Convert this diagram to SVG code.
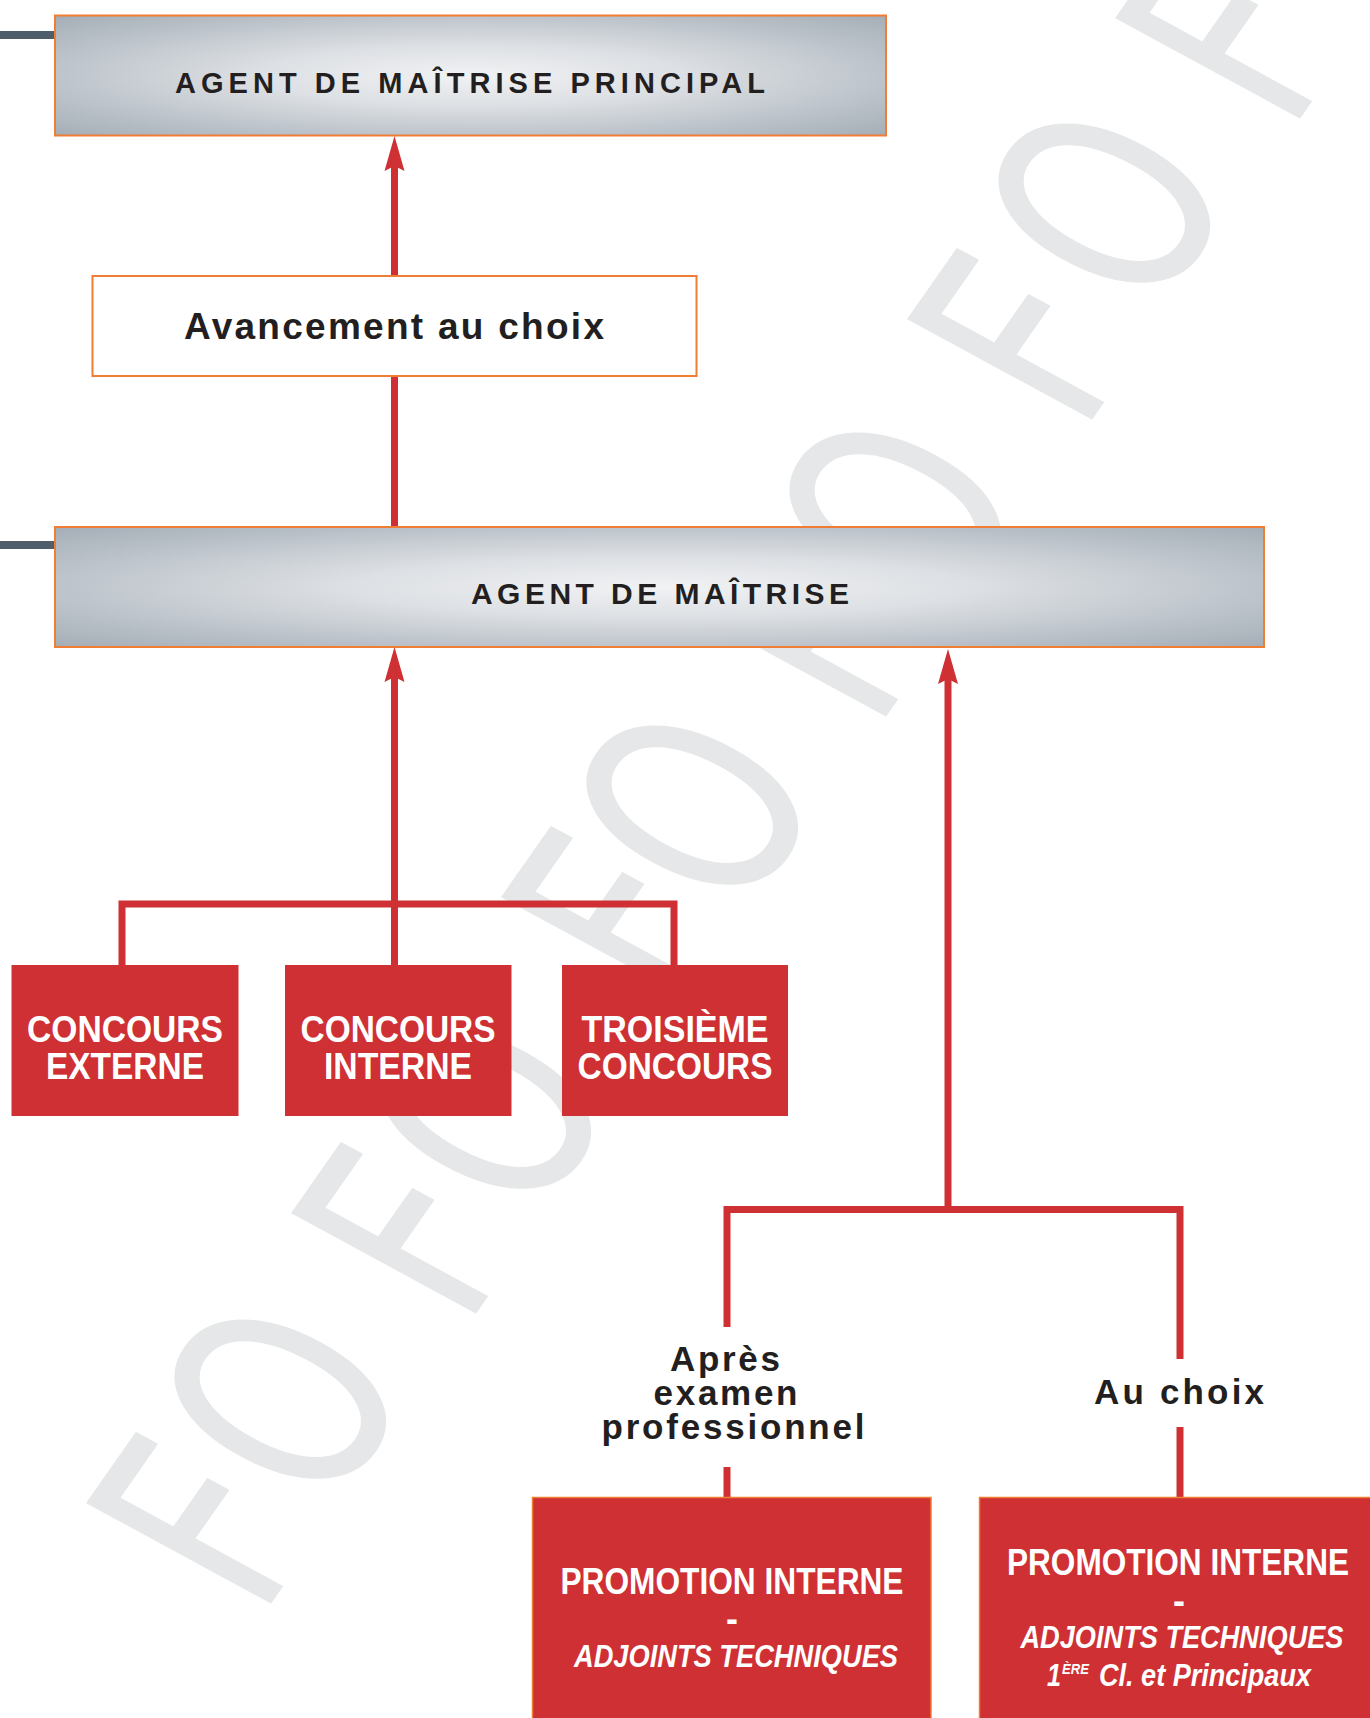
<svg xmlns="http://www.w3.org/2000/svg" width="1370" height="1718" viewBox="0 0 1370 1718">
<style>
.wm{font-family:"DejaVu Sans",sans-serif;font-size:285px;fill:#e6e7e8;stroke:#e6e7e8;stroke-width:1.5;stroke-linejoin:round;text-anchor:middle}
.grey{stroke:#ef7d34;stroke-width:2}
.white{fill:#ffffff;stroke:#ef7d34;stroke-width:2}
.red{fill:#cf3033}
.redb{fill:#cf3033;stroke:#ef7d34;stroke-width:1.5}
.stub{fill:#4f5e6b}
.dark{font-family:"Liberation Sans",Arial,sans-serif;font-weight:bold;fill:#231f20;text-anchor:middle}
.wt{font-family:"Liberation Sans",Arial,sans-serif;font-weight:bold;fill:#ffffff;text-anchor:middle}
.it{font-style:italic}
.line{fill:none;stroke:#cf3033;stroke-width:7;stroke-linejoin:miter}
</style>
<defs>
<radialGradient id="steel" cx="0.5" cy="0.5" r="0.72">
<stop offset="0" stop-color="#f1f2f4"/>
<stop offset="0.35" stop-color="#dde0e4"/>
<stop offset="0.7" stop-color="#bcc3ca"/>
<stop offset="1" stop-color="#a3acb5"/>
</radialGradient>
<marker id="arrow" markerUnits="userSpaceOnUse" viewBox="-11 -11 37 22" refX="0" refY="0" markerWidth="37" markerHeight="22" orient="auto">
<path d="M25,0 L-10,-10 L-5,0 L-10,10 Z" fill="#cf3033"/>
</marker>
</defs>
<rect width="1370" height="1718" fill="#ffffff"/>
<g id="watermark">
<text class="wm" transform="translate(201,1521) rotate(-55) skewX(6.5) scale(0.72,1)" y="104">F</text>
<text class="wm" transform="translate(280,1399) rotate(-55) skewX(6.5) scale(0.72,1)" y="104">O</text>
<text class="wm" transform="translate(406,1231) rotate(-55) skewX(6.5) scale(0.72,1)" y="104">F</text>
<text class="wm" transform="translate(485,1109) rotate(-55) skewX(6.5) scale(0.72,1)" y="104">O</text>
<text class="wm" transform="translate(616,915) rotate(-55) skewX(6.5) scale(0.72,1)" y="104">F</text>
<text class="wm" transform="translate(692,805) rotate(-55) skewX(6.5) scale(0.72,1)" y="104">O</text>
<text class="wm" transform="translate(816,634) rotate(-55) skewX(6.5) scale(0.72,1)" y="104">F</text>
<text class="wm" transform="translate(895,512) rotate(-55) skewX(6.5) scale(0.72,1)" y="104">O</text>
<text class="wm" transform="translate(1022,337) rotate(-55) skewX(6.5) scale(0.72,1)" y="104">F</text>
<text class="wm" transform="translate(1104,203) rotate(-55) skewX(6.5) scale(0.72,1)" y="104">O</text>
<text class="wm" transform="translate(1230,36) rotate(-55) skewX(6.5) scale(0.72,1)" y="104">F</text>
<text class="wm" transform="translate(1309,-86) rotate(-55) skewX(6.5) scale(0.72,1)" y="104">O</text>
</g>
<g id="stubs">
<rect class="stub" x="0" y="31" width="55" height="8"/>
<rect class="stub" x="0" y="541" width="55" height="8"/>
</g>
<g id="connectors">
<path class="line" d="M394.5,276 V161" marker-end="url(#arrow)"/>
<path class="line" d="M394.5,527 V376"/>
<path class="line" d="M394.5,965 V672" marker-end="url(#arrow)"/>
<path class="line" d="M122,965 V904 H674 V965"/>
<path class="line" d="M948,1213 V674" marker-end="url(#arrow)"/>
<path class="line" d="M727,1327 V1209.5 H1180 V1359"/>
<path class="line" d="M727,1467 V1497"/>
<path class="line" d="M1180,1427 V1497"/>
</g>
<g id="agent-maitrise-principal">
<rect class="grey" x="55" y="15.5" width="831" height="120" fill="url(#steel)"/>
<text class="dark" x="470" y="93" font-size="29" textLength="590" lengthAdjust="spacing">AGENT DE MAÎTRISE PRINCIPAL</text>
</g>
<g id="avancement-au-choix">
<rect class="white" x="92.5" y="276" width="604" height="100"/>
<text class="dark" x="394" y="339" font-size="37" textLength="420" lengthAdjust="spacing">Avancement au choix</text>
</g>
<g id="agent-maitrise">
<rect class="grey" x="55" y="527" width="1209" height="120" fill="url(#steel)"/>
<text class="dark" x="660" y="604" font-size="30" textLength="378" lengthAdjust="spacing">AGENT DE MAÎTRISE</text>
</g>
<g id="concours-externe">
<rect class="red" x="11.5" y="965" width="227" height="151"/>
<text class="wt" x="125" y="1042" font-size="36" textLength="196" lengthAdjust="spacingAndGlyphs">CONCOURS</text>
<text class="wt" x="125" y="1079" font-size="36" textLength="158" lengthAdjust="spacingAndGlyphs">EXTERNE</text>
</g>
<g id="concours-interne">
<rect class="red" x="285" y="965" width="226.5" height="151"/>
<text class="wt" x="398" y="1042" font-size="36" textLength="195" lengthAdjust="spacingAndGlyphs">CONCOURS</text>
<text class="wt" x="398" y="1079" font-size="36" textLength="148" lengthAdjust="spacingAndGlyphs">INTERNE</text>
</g>
<g id="troisieme-concours">
<rect class="red" x="562" y="965" width="226" height="151"/>
<text class="wt" x="675" y="1042" font-size="36" textLength="187" lengthAdjust="spacingAndGlyphs">TROISIÈME</text>
<text class="wt" x="675" y="1079" font-size="36" textLength="195" lengthAdjust="spacingAndGlyphs">CONCOURS</text>
</g>
<g id="label-apres-examen">
<text class="dark" x="725" y="1371" font-size="35" textLength="110" lengthAdjust="spacing">Après</text>
<text class="dark" x="725.5" y="1405" font-size="35" textLength="144" lengthAdjust="spacing">examen</text>
<text class="dark" x="733" y="1439" font-size="35" textLength="263" lengthAdjust="spacing">professionnel</text>
</g>
<g id="label-au-choix">
<text class="dark" x="1179" y="1404" font-size="35" textLength="170" lengthAdjust="spacing">Au choix</text>
</g>
<g id="promotion-interne-adjoints">
<rect class="redb" x="532.5" y="1497.5" width="398.5" height="230"/>
<text class="wt" x="732" y="1594" font-size="36" textLength="343" lengthAdjust="spacingAndGlyphs">PROMOTION INTERNE</text>
<text class="wt" x="732" y="1631" font-size="36">-</text>
<text class="wt it" x="736" y="1667" font-size="31" textLength="324" lengthAdjust="spacingAndGlyphs">ADJOINTS TECHNIQUES</text>
</g>
<g id="promotion-interne-adjoints-1ere">
<rect class="redb" x="979.5" y="1497.5" width="400" height="230"/>
<text class="wt" x="1178" y="1575" font-size="36" textLength="342" lengthAdjust="spacingAndGlyphs">PROMOTION INTERNE</text>
<text class="wt" x="1179" y="1613" font-size="36">-</text>
<text class="wt it" x="1182" y="1648" font-size="31" textLength="323" lengthAdjust="spacingAndGlyphs">ADJOINTS TECHNIQUES</text>
<text class="wt it" x="1047" y="1685.5" font-size="31" style="text-anchor:start" textLength="14" lengthAdjust="spacingAndGlyphs">1</text>
<text class="wt it" x="1062" y="1674" font-size="14" style="text-anchor:start" textLength="27" lengthAdjust="spacingAndGlyphs">ÈRE</text>
<text class="wt it" x="1099" y="1685.5" font-size="31" style="text-anchor:start" textLength="212" lengthAdjust="spacingAndGlyphs">Cl. et Principaux</text>
</g>
</svg>
